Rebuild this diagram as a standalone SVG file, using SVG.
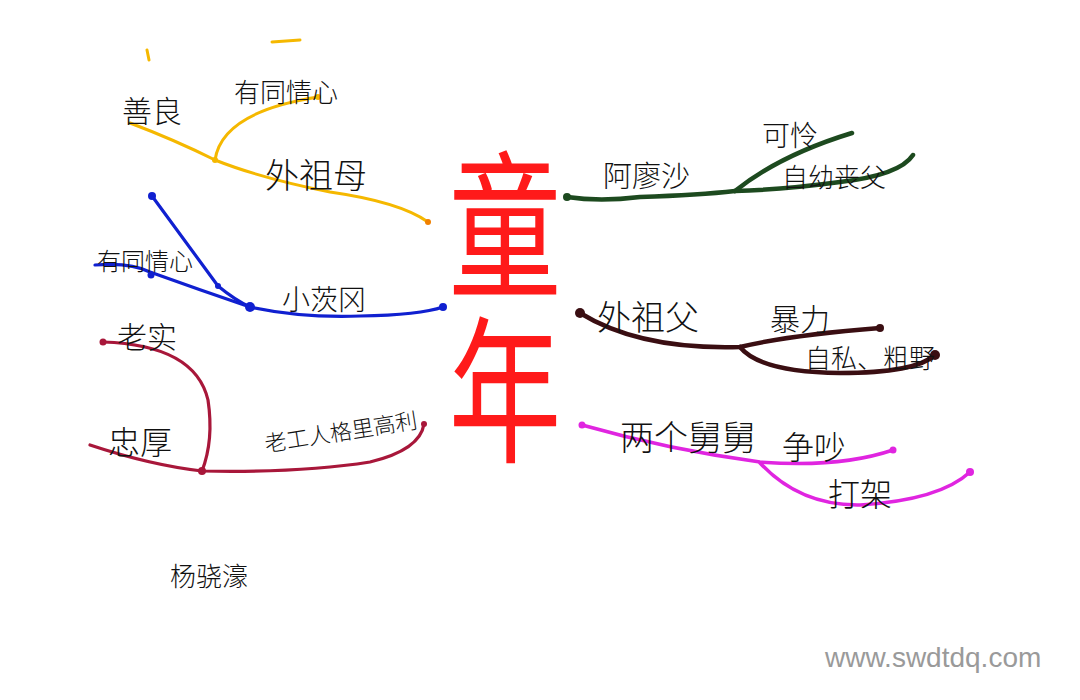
<svg xmlns="http://www.w3.org/2000/svg" width="1080" height="700" viewBox="0 0 1080 700">
<style>
.t{font-family:"Noto Sans CJK SC","Noto Sans",sans-serif;fill:#111;font-weight:300}
.br{fill:none;stroke-linecap:round;stroke-linejoin:round}
.y{stroke:#f5b800;stroke-width:3}
.b{stroke:#1020d0;stroke-width:3.2}
.m{stroke:#a8173a;stroke-width:3.2}
.g{stroke:#1d4a1f;stroke-width:4.5}
.d{stroke:#3a0e12;stroke-width:4.5}
.p{stroke:#e025e0;stroke-width:3.5}
.c{font-family:"Noto Sans CJK SC",sans-serif;fill:#ff1a1a;font-weight:400}
.w{font-family:"Liberation Sans",Arial,sans-serif;fill:#9a9a9a;font-size:28px}
</style>
<rect width="1080" height="700" fill="#fff"/>
<g id="connectors">
<path class="br y" d="M130,123 Q175,140 215,160 Q260,178 330,192 Q400,202 428,222"/>
<path class="br y" d="M215,160 Q222,112 318,97"/>
<path class="br y" d="M147,50 L149,60 M272,42 L300,40"/>
<path class="br b" d="M95,265 Q130,262 150,272 Q200,290 250,307 Q300,318 360,316 Q420,315 443,307"/>
<path class="br b" d="M152,196 L218,286 Q235,300 250,307"/>
<path class="br m" d="M103,342 Q195,345 208,400 Q214,440 202,471"/>
<path class="br m" d="M90,445 Q150,465 202,471 Q300,473 370,462 Q420,450 424,424"/>
<path class="br g" d="M567,197 Q600,202 640,197 Q700,195 735,191 Q780,190 840,182 Q900,175 913,155"/>
<path class="br g" d="M735,191 Q780,155 852,133"/>
<path class="br d" d="M580,313 Q640,350 740,347 Q790,335 880,328"/>
<path class="br d" d="M740,347 Q760,372 840,373 Q915,373 935,355"/>
<path class="br p" d="M582,425 Q670,450 760,462 Q840,468 893,450"/>
<path class="br p" d="M760,463 Q800,506 860,505 Q940,500 970,472"/>
<g fill="#1020d0"><circle cx="152" cy="196" r="4"/><circle cx="250" cy="307" r="5"/><circle cx="443" cy="307" r="4"/><circle cx="151" cy="275" r="3.5"/><circle cx="218" cy="286" r="3"/></g>
<g fill="#a8173a"><circle cx="103" cy="342" r="3.5"/><circle cx="202" cy="471" r="4"/><circle cx="424" cy="424" r="3"/></g>
<g fill="#f5b800"><circle cx="215" cy="160" r="3"/><circle cx="318" cy="97" r="3"/></g>
<circle cx="428" cy="222" r="3" fill="#f08000"/>
<g fill="#1d4a1f"><circle cx="567" cy="197" r="4"/></g>
<g fill="#3a0e12"><circle cx="580" cy="313" r="5"/><circle cx="880" cy="328" r="4"/><circle cx="935" cy="355" r="5"/></g>
<g fill="#e025e0"><circle cx="582" cy="425" r="3.5"/><circle cx="893" cy="450" r="3.5"/><circle cx="970" cy="472" r="4"/></g>
</g>
<g id="center"><text class="c" font-size="150" writing-mode="vertical-rl" letter-spacing="8" transform="translate(505,146) scale(0.75,1.05)" x="0" y="0">童年</text></g>
<g id="n-waizumu"><text class="t" x="265" y="188" font-size="34">外祖母</text></g>
<g id="n-shanliang"><text class="t" x="122" y="122" font-size="30">善良</text></g>
<g id="n-tongqing1"><text class="t" x="234" y="102" font-size="26">有同情心</text></g>
<g id="n-xiaocigang"><text class="t" x="282" y="310" font-size="28">小茨冈</text></g>
<g id="n-tongqing2"><text class="t" x="97" y="270" font-size="24">有同情心</text></g>
<g id="n-laoshi"><text class="t" x="117" y="348" font-size="30">老实</text></g>
<g id="n-zhonghou"><text class="t" x="108" y="454" font-size="32">忠厚</text></g>
<g id="n-geligaoli"><text class="t" font-size="22" transform="translate(266,452) rotate(-9)">老工人格里高利</text></g>
<g id="n-aliaosha"><text class="t" x="603" y="187" font-size="29">阿廖沙</text></g>
<g id="n-kelian"><text class="t" x="762" y="146" font-size="28">可怜</text></g>
<g id="n-ziyou"><text class="t" x="782" y="187" font-size="26">自幼丧父</text></g>
<g id="n-waizufu"><text class="t" x="597" y="330" font-size="34">外祖父</text></g>
<g id="n-baoli"><text class="t" x="770" y="330" font-size="30">暴力</text></g>
<g id="n-zisi"><text class="t" x="805" y="368" font-size="26">自私、粗野</text></g>
<g id="n-jiujiu"><text class="t" x="620" y="450" font-size="34">两个舅舅</text></g>
<g id="n-zhengchao"><text class="t" x="782" y="459" font-size="32">争吵</text></g>
<g id="n-dajia"><text class="t" x="828" y="506" font-size="32">打架</text></g>
<g id="name"><text class="t" x="170" y="586" font-size="26">杨骁濠</text></g>
<text class="w" x="825" y="667">www.swdtdq.com</text>
</svg>
